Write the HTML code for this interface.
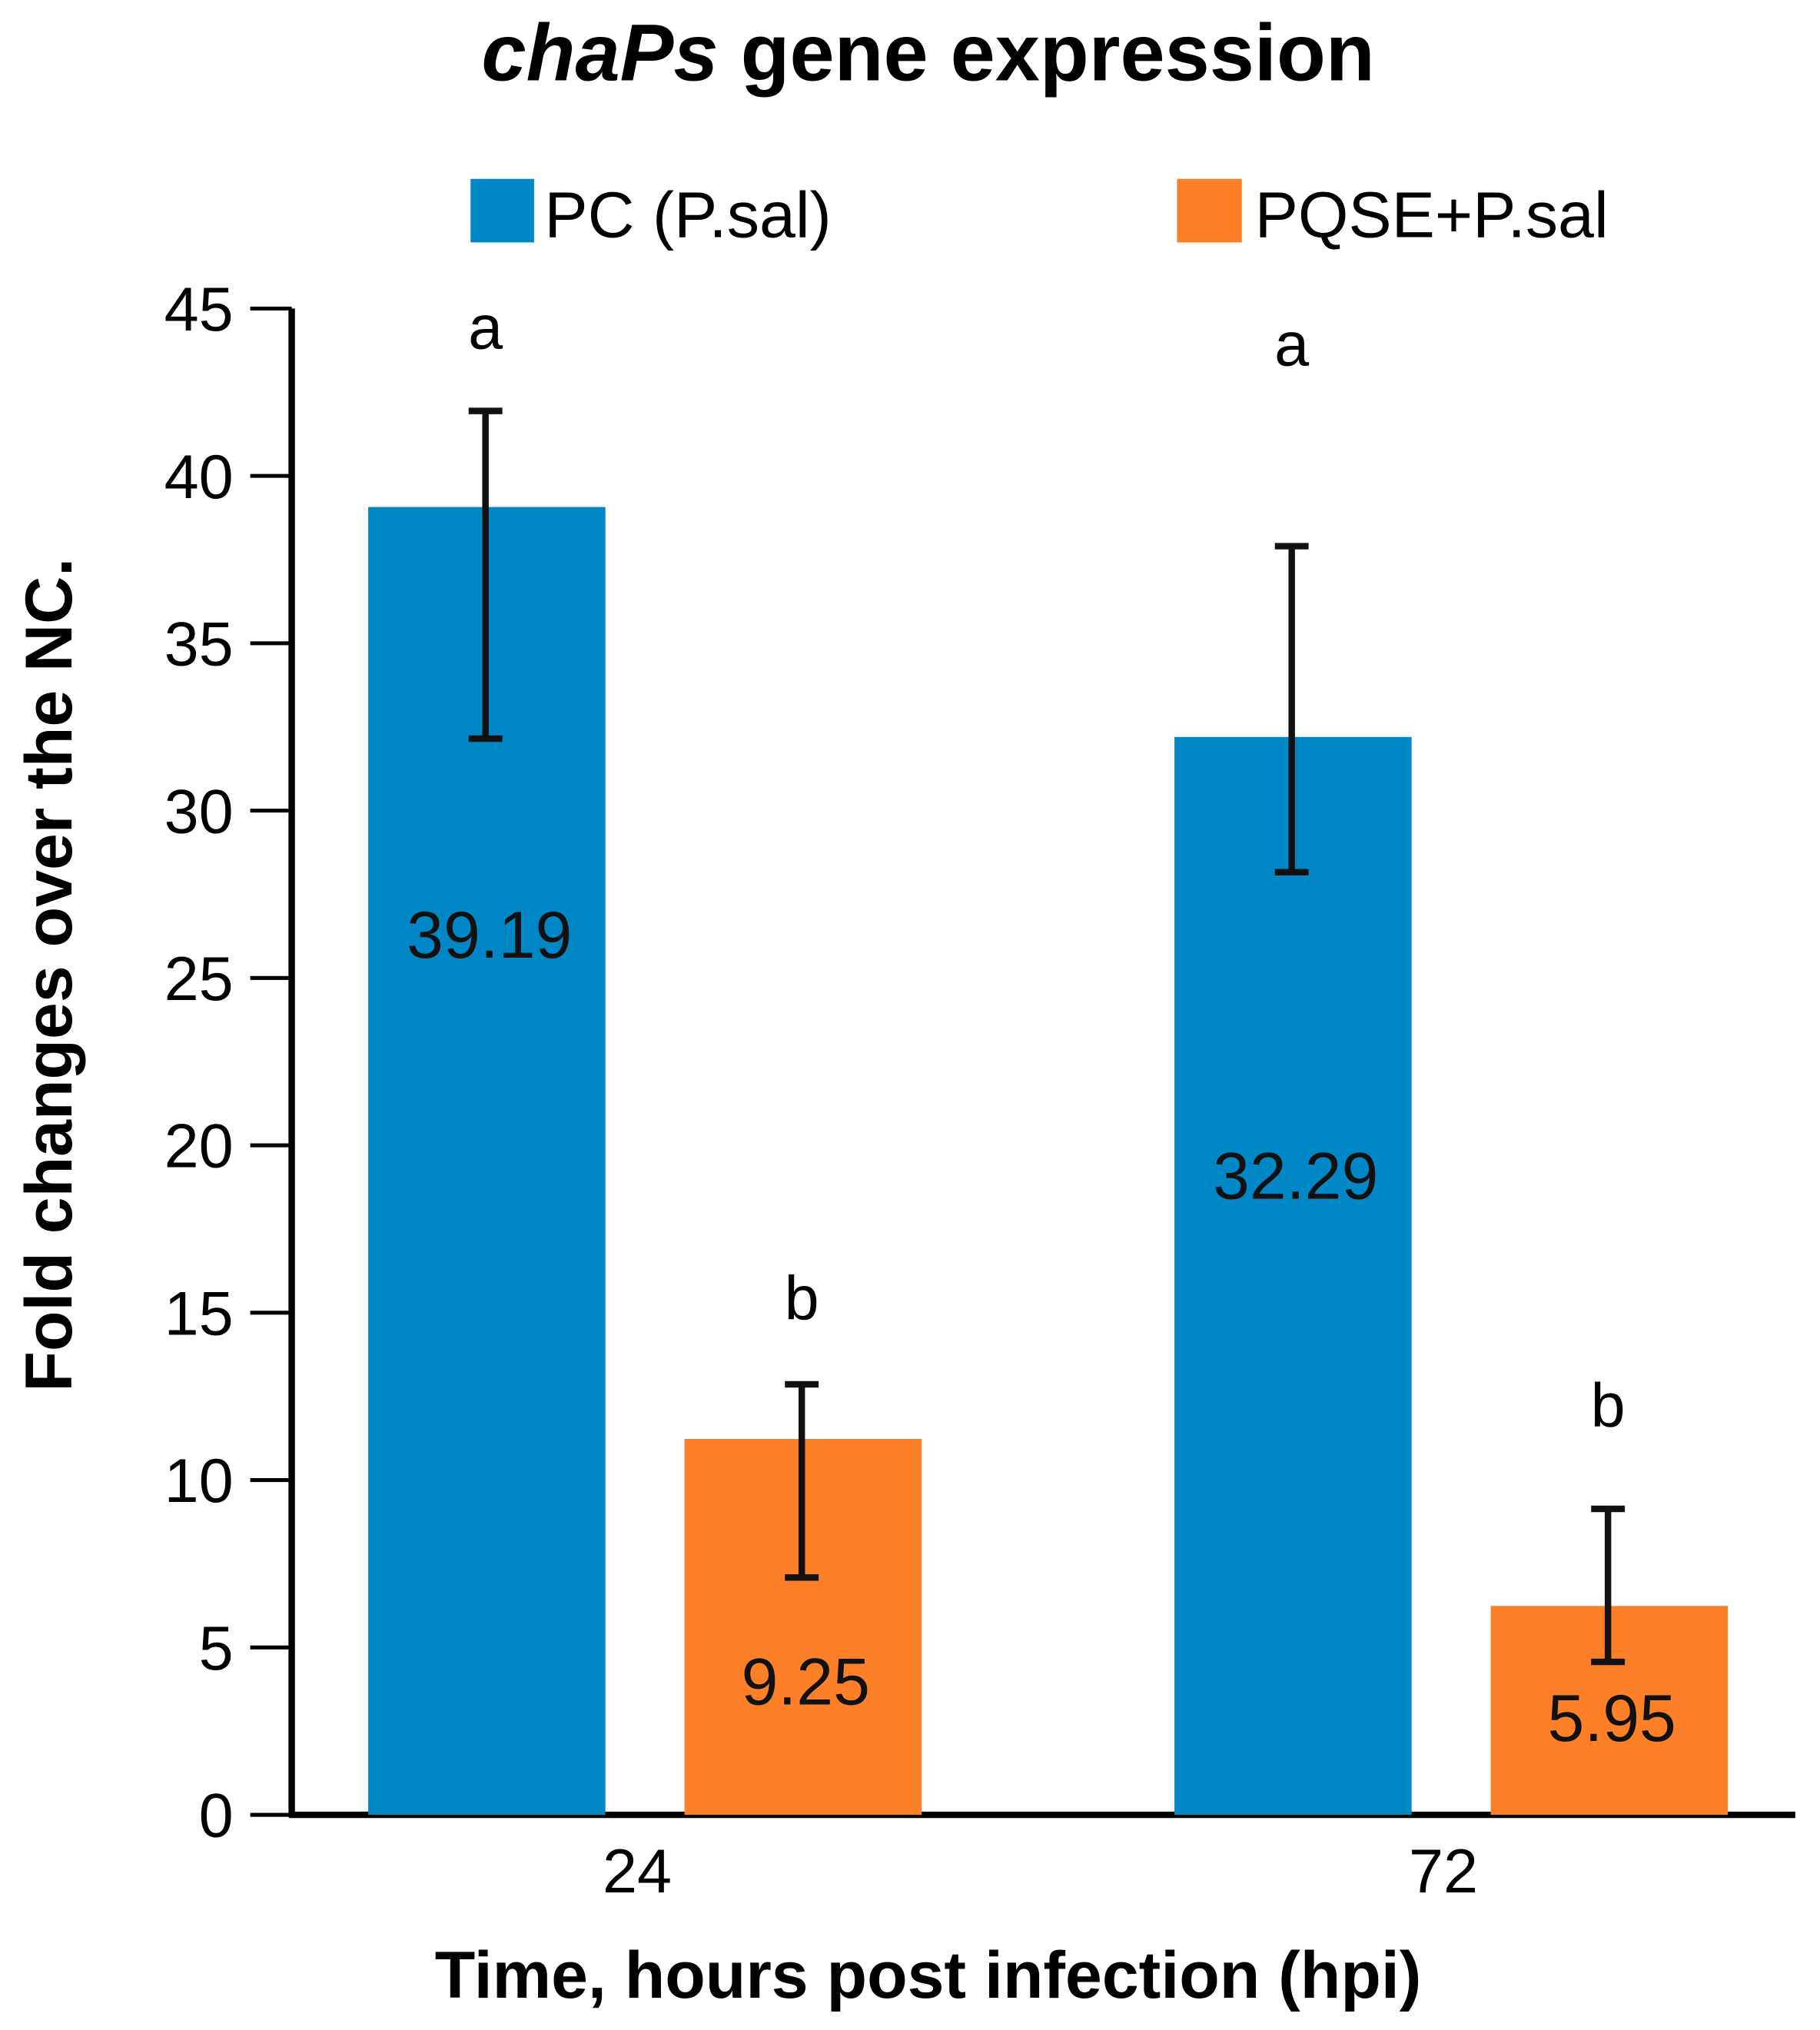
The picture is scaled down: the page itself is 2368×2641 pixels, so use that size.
<!DOCTYPE html>
<html><head><meta charset="utf-8"><style>html,body{margin:0;padding:0;background:#fff}svg{display:block}text{font-family:"Liberation Sans",Arial,sans-serif}</style></head>
<body>
<svg id="chart" width="2368" height="2641" viewBox="0 0 1404 1566" xmlns="http://www.w3.org/2000/svg">
<text x="716" y="62" text-anchor="middle" font-size="62" font-weight="bold"><tspan font-style="italic">chaPs</tspan> gene expression</text>
<rect x="363" y="138" width="49" height="49" fill="#0087c6"/>
<text x="420" y="183" font-size="50">PC (P.sal)</text>
<rect x="908" y="138" width="50" height="49" fill="#fd7f27"/>
<text x="968" y="183" font-size="50">PQSE+P.sal</text>
<text transform="translate(55,752) rotate(-90)" text-anchor="middle" font-size="51" font-weight="bold">Fold changes over the NC.</text>
<text x="716" y="1541" text-anchor="middle" font-size="51" font-weight="bold">Time, hours post infection (hpi)</text>
<g id="plot"></g>
</svg>
<script>
const categories = ["24", "72"];
const seriesNames = ["PC (P.sal)", "PQSE+P.sal"];
const pcValues = [39.07, 32.2];
const pqseValues = [11.23, 6.24];
const pcLabels = ["39.19", "32.29"];
const pqseLabels = ["9.25", "5.95"];
const pcErrLow = [32.15, 28.16];
const pcErrHigh = [41.94, 37.9];
const pqseErrLow = [7.09, 4.57];
const pqseErrHigh = [12.86, 9.14];
const pcLetters = ["a", "a"];
const pqseLetters = ["b", "b"];
const pcLetterPos = [43.8, 43.3];
const pqseLetterPos = [14.8, 11.6];
const pcLabelPos = [25.6, 18.4];
const pqseLabelPos = [3.3, 2.2];
const yTicks = [0, 5, 10, 15, 20, 25, 30, 35, 40, 45];

const NS = "http://www.w3.org/2000/svg";
const g = document.getElementById("plot");
const y0 = 1400, yTop = 238, yMax = 45, axX = 225, axEnd = 1385;
function y(v){ return y0 - v * (y0 - yTop) / yMax; }
const groupStart = [284, 906], barW = 183, gap = 244;
function bx(i, s){ return groupStart[i] + s * gap; }
function mk(tag, attrs){ const e = document.createElementNS(NS, tag); for (const k in attrs) e.setAttribute(k, attrs[k]); g.appendChild(e); return e; }

let ax = mk("line", {x1: axX, y1: yTop, x2: axX, y2: y0 + 2, stroke: "#000", "stroke-width": 5});


let xa = mk("line", {x1: axX - 2, y1: y0, x2: axEnd, y2: y0, stroke: "#000", "stroke-width": 5});


yTicks.forEach(t => {
  const tk = mk("line", {x1: 193, y1: y(t), x2: axX, y2: y(t), stroke: "#000", "stroke-width": 3});
  
  
  const tl = mk("text", {x: 180, y: y(t) + 17, "text-anchor": "end", "font-size": 48});
  tl.textContent = String(t);
  
  
});
categories.forEach((c, i) => {
  const xl = mk("text", {x: (bx(i,0) + bx(i,1) + barW) / 2 - 6, y: 1460, "text-anchor": "middle", "font-size": 48});
  xl.textContent = c;
  
  
});
const series = [
  {vals: pcValues, labs: pcLabels, lo: pcErrLow, hi: pcErrHigh, let: pcLetters, lp: pcLetterPos, vp: pcLabelPos, color: "#0087c6", name: "pc"},
  {vals: pqseValues, labs: pqseLabels, lo: pqseErrLow, hi: pqseErrHigh, let: pqseLetters, lp: pqseLetterPos, vp: pqseLabelPos, color: "#fd7f27", name: "pqse"}
];
series.forEach((s, si) => {
  categories.forEach((c, i) => {
    const x = bx(i, si), cx = x + barW / 2;
    const r = mk("rect", {x: x, y: y(s.vals[i]), width: barW, height: y0 - y(s.vals[i]), fill: s.color});
    
    
    const ex = cx - 1;
    const e1 = mk("line", {x1: ex, y1: y(s.hi[i]), x2: ex, y2: y(s.lo[i]), stroke: "#111", "stroke-width": 5});
    
    
    [s.hi[i], s.lo[i]].forEach(v => {
      const cap = mk("line", {x1: ex - 13, y1: y(v), x2: ex + 13, y2: y(v), stroke: "#111", "stroke-width": 5});
      
      
    });
    const vl = mk("text", {x: cx + 2, y: y(s.vp[i]), "text-anchor": "middle", "font-size": 51, fill: "#111"});
    vl.textContent = s.labs[i];
    
    
    const lt = mk("text", {x: ex, y: y(s.lp[i]), "text-anchor": "middle", "font-size": 48});
    lt.textContent = s.let[i];
    
    
  });
});
</script>
</body></html>
